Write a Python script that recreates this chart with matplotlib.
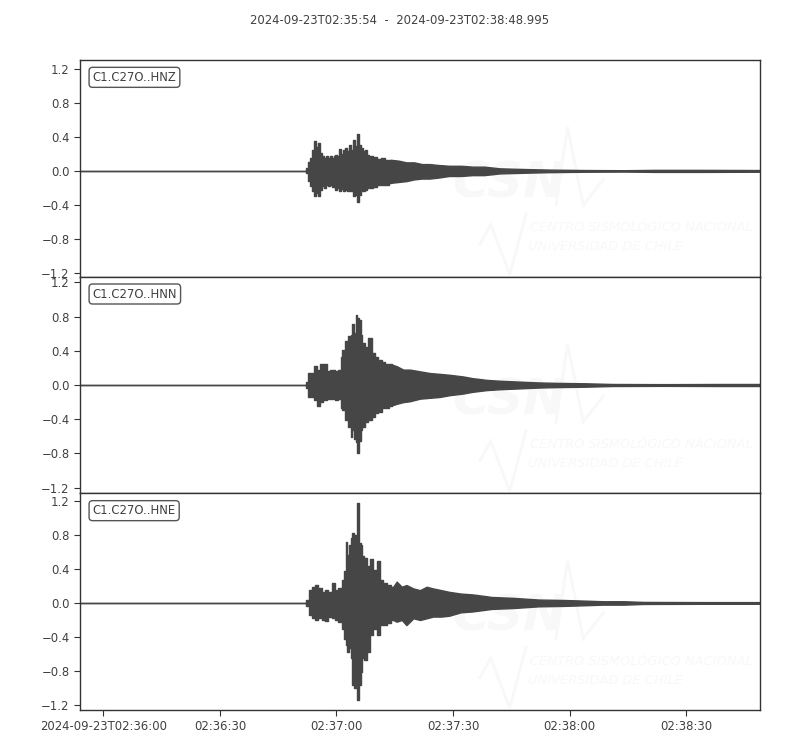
import matplotlib
matplotlib.use("Agg")
import matplotlib.pyplot as plt
import matplotlib.dates as mdates
import datetime as dt
import numpy as np

# ---------------- data ----------------
title = "2024-09-23T02:35:54  -  2024-09-23T02:38:48.995"
start_time = dt.datetime(2024, 9, 23, 2, 35, 54)
duration_s = 174.995

channels = ["C1.C27O..HNZ", "C1.C27O..HNN", "C1.C27O..HNE"]

# envelope of each trace: seconds after start, upper and lower amplitude
z_t = [0.0, 58.0, 58.5, 59.0, 59.5, 60.0, 60.5, 61.0, 61.5, 62.0, 62.5, 63.0, 63.5,
       64.0, 64.5, 65.0, 65.5, 66.0, 66.5, 67.0, 67.5, 68.0, 68.5, 69.0, 69.5, 70.0,
       70.5, 71.0, 71.5, 72.0, 72.5, 73.0, 73.5, 74.0, 75.0, 76.0, 77.0, 78.0, 79.0,
       80.0, 82.0, 84.0, 86.0, 88.0, 90.0, 92.0, 95.0, 98.0, 101.0, 104.0, 108.0,
       112.0, 116.0, 121.0, 130.0, 140.0, 148.0, 160.0, 174.995]
z_up = [0.0, 0.0, 0.03, 0.11, 0.15, 0.25, 0.35, 0.28, 0.33, 0.21, 0.17, 0.15, 0.17,
        0.15, 0.17, 0.15, 0.18, 0.19, 0.17, 0.26, 0.20, 0.24, 0.27, 0.23, 0.30, 0.25,
        0.36, 0.29, 0.43, 0.30, 0.27, 0.23, 0.25, 0.19, 0.17, 0.16, 0.14, 0.15, 0.13,
        0.13, 0.12, 0.10, 0.10, 0.08, 0.08, 0.07, 0.06, 0.06, 0.05, 0.05, 0.03,
        0.025, 0.02, 0.015, 0.01, 0.008, 0.012, 0.012, 0.01]
z_lo = [0.0, 0.0, -0.03, -0.12, -0.18, -0.24, -0.30, -0.26, -0.30, -0.22, -0.18, -0.20, -0.16,
        -0.18, -0.16, -0.19, -0.18, -0.22, -0.20, -0.23, -0.21, -0.23, -0.22, -0.23, -0.24, -0.24,
        -0.30, -0.28, -0.36, -0.28, -0.24, -0.24, -0.22, -0.20, -0.20, -0.19, -0.17, -0.16, -0.16,
        -0.14, -0.13, -0.12, -0.10, -0.09, -0.09, -0.08, -0.06, -0.06, -0.05, -0.05, -0.03,
        -0.025, -0.02, -0.015, -0.01, -0.008, -0.012, -0.012, -0.01]

n_t = [0.0, 58.0, 58.5, 59.0, 60.0, 60.5, 61.3, 62.2, 63.0, 63.9, 65.0, 66.0, 66.9,
       67.3, 67.7, 68.6, 69.5, 69.9, 70.3, 70.8, 71.2, 71.6, 72.0, 72.5, 72.9, 73.8,
       74.6, 75.5, 76.3, 77.2, 78.0, 78.9, 80.2, 81.5, 83.2, 84.9, 87.5, 90.0, 92.6,
       95.0, 98.6, 101.0, 104.6, 108.0, 113.0, 118.0, 122.6, 130.0, 137.0, 150.0,
       165.0, 174.995]
n_up = [0.0, 0.0, 0.04, 0.14, 0.14, 0.22, 0.17, 0.24, 0.24, 0.16, 0.17, 0.16, 0.17,
        0.33, 0.41, 0.51, 0.57, 0.59, 0.71, 0.61, 0.82, 0.78, 0.76, 0.59, 0.49, 0.45,
        0.55, 0.37, 0.33, 0.29, 0.27, 0.25, 0.24, 0.22, 0.18, 0.18, 0.16, 0.14, 0.13,
        0.12, 0.10, 0.08, 0.06, 0.05, 0.04, 0.03, 0.025, 0.02, 0.012, 0.01,
        0.012, 0.012]
n_lo = [0.0, 0.0, -0.04, -0.14, -0.14, -0.18, -0.24, -0.20, -0.18, -0.16, -0.16, -0.17, -0.16,
        -0.27, -0.29, -0.41, -0.49, -0.61, -0.53, -0.63, -0.67, -0.80, -0.65, -0.53, -0.49, -0.43,
        -0.41, -0.37, -0.33, -0.31, -0.27, -0.27, -0.24, -0.22, -0.20, -0.19, -0.16, -0.15, -0.14,
        -0.12, -0.10, -0.08, -0.06, -0.05, -0.04, -0.03, -0.025, -0.02, -0.012, -0.01,
        -0.012, -0.012]

e_t = [0.0, 58.0, 58.5, 59.2, 60.0, 60.9, 61.7, 62.6, 63.5, 64.3, 65.2, 66.0, 66.9,
       67.7, 68.2, 68.6, 69.0, 69.5, 69.9, 70.3, 70.8, 71.2, 71.6, 72.0, 72.5, 72.9,
       73.3, 74.2, 75.0, 75.9, 76.8, 77.6, 78.5, 79.3, 80.6, 81.5, 82.8, 84.0, 85.8,
       87.5, 89.2, 90.9, 93.0, 95.0, 98.0, 101.0, 106.0, 111.4, 118.0, 124.3, 130.0,
       134.6, 140.0, 145.0, 160.0, 174.995]
e_up = [0.0, 0.0, 0.04, 0.15, 0.19, 0.21, 0.17, 0.13, 0.15, 0.13, 0.23, 0.15, 0.17,
        0.27, 0.37, 0.72, 0.56, 0.68, 0.76, 0.82, 0.80, 0.72, 1.17, 0.70, 0.68, 0.55,
        0.53, 0.43, 0.51, 0.39, 0.49, 0.27, 0.23, 0.21, 0.19, 0.25, 0.19, 0.21, 0.17,
        0.15, 0.19, 0.17, 0.15, 0.13, 0.11, 0.10, 0.07, 0.06, 0.04, 0.035, 0.027,
        0.02, 0.02, 0.012, 0.01, 0.01]
e_lo = [0.0, 0.0, -0.04, -0.14, -0.18, -0.20, -0.18, -0.20, -0.21, -0.16, -0.18, -0.20, -0.22,
        -0.30, -0.42, -0.49, -0.57, -0.53, -0.65, -0.96, -1.00, -0.93, -1.14, -0.96, -0.81, -0.65,
        -0.67, -0.57, -0.38, -0.30, -0.38, -0.26, -0.26, -0.24, -0.20, -0.22, -0.20, -0.26, -0.18,
        -0.20, -0.18, -0.16, -0.16, -0.15, -0.11, -0.10, -0.07, -0.06, -0.04, -0.035, -0.027,
        -0.02, -0.02, -0.012, -0.01, -0.01]

traces = [(z_t, z_up, z_lo), (n_t, n_up, n_lo), (e_t, e_up, e_lo)]
coda_start_s = 80.0   # after this the envelope is drawn as a smooth taper

y_ticks = [-1.2, -0.8, -0.4, 0.0, 0.4, 0.8, 1.2]
y_tick_labels = ["\u22121.2", "\u22120.8", "\u22120.4", "0.0", "0.4", "0.8", "1.2"]
y_limits = [(-1.24, 1.30), (-1.267, 1.267), (-1.255, 1.285)]

x_tick_seconds = [6, 36, 66, 96, 126, 156]
x_tick_labels = ["2024-09-23T02:36:00", "02:36:30", "02:37:00",
                 "02:37:30", "02:38:00", "02:38:30"]

# ---------------- styling ----------------
trace_color = "#464646"
text_color = "#404040"
spine_color = "#333333"
wm_color = "#f8f8f8"
fs = 8.4

plt.rcParams["font.family"] = ["DejaVu Sans"]
plt.rcParams["axes.unicode_minus"] = True

t0 = mdates.date2num(start_time)


def to_num(seconds):
    return t0 + np.asarray(seconds, dtype=float) / 86400.0


fig = plt.figure(figsize=(8, 7.5), dpi=100)
left, width = 80 / 800, 680 / 800
panel_h = (650 / 3) / 750
bottom0 = 40 / 750

fig.text(0.5, 1 - 20 / 750, title, ha="center", va="center",
         fontsize=fs, color=text_color)


def watermark(ax):
    tr = ax.transAxes
    ax.text(0.548, 0.43, "CSN", transform=tr, fontsize=36, fontweight="bold",
            fontstyle="italic", color=wm_color, ha="left", va="center", zorder=0)
    ax.plot([0.70, 0.717, 0.74, 0.77], [0.33, 0.69, 0.33, 0.45],
            transform=tr, color=wm_color, lw=2, zorder=0, solid_joinstyle="miter")
    ax.plot([0.588, 0.604, 0.632, 0.656], [0.15, 0.24, 0.01, 0.29],
            transform=tr, color=wm_color, lw=2, zorder=0, solid_joinstyle="miter")
    ax.text(0.662, 0.225, "CENTRO SISMOLÓGICO NACIONAL", transform=tr,
            fontsize=9.4, fontstyle="italic", color=wm_color, ha="left",
            va="center", zorder=0)
    ax.text(0.659, 0.137, "UNIVERSIDAD DE CHILE", transform=tr,
            fontsize=9.4, fontstyle="italic", color=wm_color, ha="left",
            va="center", zorder=0)


axes = []
for i, (label, (tt, up, lo)) in enumerate(zip(channels, traces)):
    b = bottom0 + (2 - i) * panel_h
    ax = fig.add_axes([left, b, width, panel_h])
    axes.append(ax)
    watermark(ax)
    tt = np.asarray(tt)
    up = np.asarray(up)
    lo = np.asarray(lo)
    k = int(np.searchsorted(tt, coda_start_s))
    # strong-motion part: jagged (step) envelope
    ax.fill_between(to_num(tt[:k + 1]), lo[:k + 1], up[:k + 1], step="mid",
                    color=trace_color, edgecolor=trace_color, lw=1.0, zorder=2)
    # coda: tapering envelope
    ax.fill_between(to_num(tt[k:]), lo[k:], up[k:],
                    color=trace_color, edgecolor=trace_color, lw=1.0, zorder=2)
    ax.set_xlim(to_num(0), to_num(duration_s))
    ax.set_ylim(*y_limits[i])
    ax.set_yticks(y_ticks)
    ax.set_yticklabels(y_tick_labels)
    ax.set_xticks(to_num(x_tick_seconds))
    if i == 2:
        ax.set_xticklabels(x_tick_labels)
    else:
        ax.tick_params(axis="x", bottom=False, labelbottom=False)
    ax.tick_params(labelsize=fs, colors=spine_color, labelcolor=text_color,
                   length=4, width=0.8)
    for s in ax.spines.values():
        s.set_color(spine_color)
        s.set_linewidth(1.0)
    ax.text(0.0185, 0.92, label, transform=ax.transAxes, fontsize=fs,
            color=text_color, ha="left", va="center", zorder=5,
            bbox=dict(boxstyle="round,pad=0.3", fc="white", ec="#555555", lw=1.0))

fig.savefig("out.png", dpi=100)
